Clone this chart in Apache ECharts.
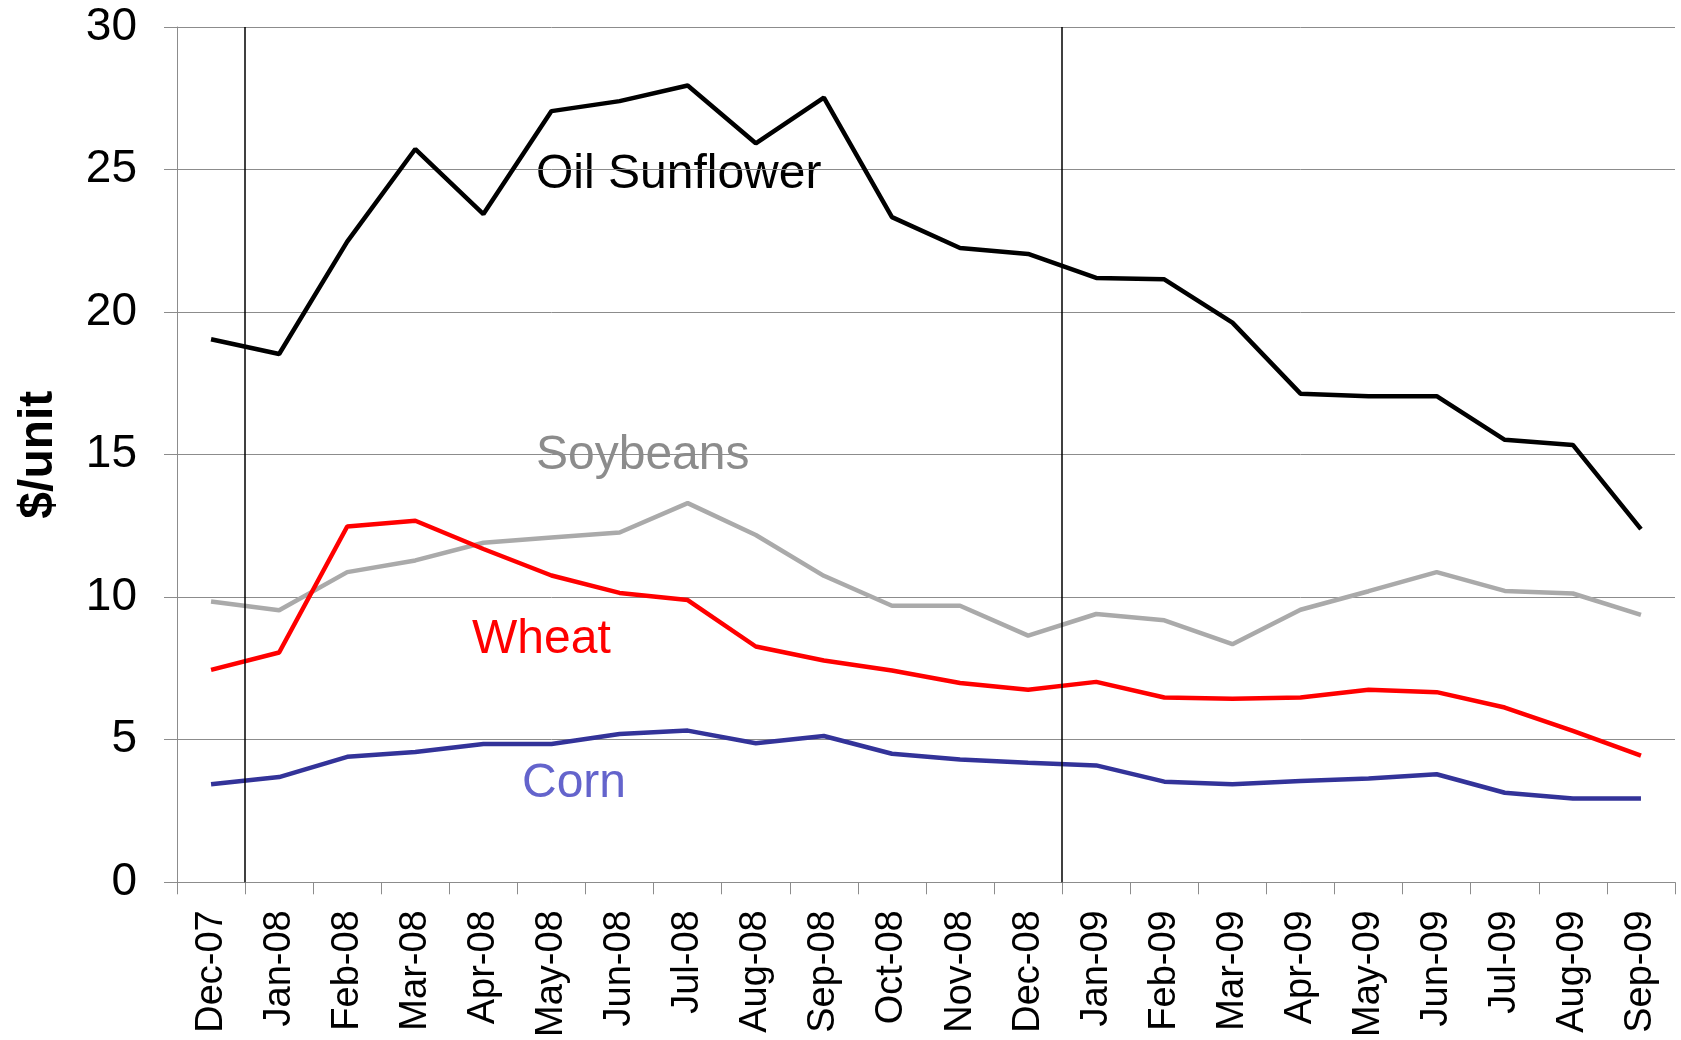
<!DOCTYPE html>
<html>
<head>
<meta charset="utf-8">
<script src="https://cdn.jsdelivr.net/npm/echarts@6/dist/echarts.min.js"></script>
<style>
html,body{margin:0;padding:0;background:#fff;}
#chart{width:1681px;height:1040px;}
</style>
</head>
<body>
<div id="chart"></div>
<script>
const categories = ['Dec-07','Jan-08','Feb-08','Mar-08','Apr-08','May-08','Jun-08','Jul-08','Aug-08','Sep-08','Oct-08','Nov-08','Dec-08','Jan-09','Feb-09','Mar-09','Apr-09','May-09','Jun-09','Jul-09','Aug-09','Sep-09'];
const oilSunflower = [19.05,18.53,22.47,25.72,23.44,27.05,27.4,27.95,25.92,27.52,23.33,22.25,22.04,21.2,21.15,19.63,17.14,17.05,17.05,15.52,15.34,12.39];
const soybeans = [9.85,9.54,10.88,11.29,11.91,12.09,12.27,13.3,12.18,10.75,9.7,9.7,8.65,9.41,9.19,8.35,9.56,10.21,10.88,10.22,10.13,9.38];
const wheat = [7.45,8.06,12.48,12.68,11.69,10.76,10.15,9.9,8.27,7.78,7.43,6.99,6.75,7.03,6.48,6.44,6.48,6.75,6.67,6.13,5.31,4.44];
const corn = [3.44,3.69,4.4,4.57,4.85,4.85,5.2,5.32,4.88,5.13,4.51,4.31,4.19,4.1,3.53,3.44,3.55,3.64,3.79,3.14,2.94,2.94];
const yTicks = {min: 0, max: 30, interval: 5};
const dividers = [1, 13];
const seriesNames = ['Oil Sunflower','Soybeans','Wheat','Corn'];

const chart = echarts.init(document.getElementById('chart'), null, {renderer: 'canvas'});
const FONT = 'Liberation Sans, Arial, sans-serif';
const gridColor = '#8c8c8c';

chart.setOption({
  backgroundColor: '#ffffff',
  animation: false,
  grid: {left: 177, right: 6, top: 27, bottom: 156, containLabel: false},
  xAxis: [{
    type: 'category',
    data: categories,
    boundaryGap: true,
    axisLine: {show: true, lineStyle: {color: gridColor, width: 1}},
    axisTick: {show: true, interval: 0, length: 12, lineStyle: {color: gridColor, width: 1}},
    axisLabel: {interval: 0, rotate: 90, fontSize: 38, color: '#000', fontFamily: FONT, margin: 28},
    splitLine: {show: false}
  }, {
    type: 'value',
    min: 0,
    max: categories.length,
    show: false
  }],
  yAxis: {
    type: 'value',
    min: yTicks.min, max: yTicks.max, interval: yTicks.interval,
    name: '$/unit',
    nameLocation: 'middle',
    nameGap: 114,
    nameRotate: 90,
    nameTextStyle: {fontSize: 48, fontWeight: 'bold', color: '#000', fontFamily: FONT},
    axisLine: {show: true, lineStyle: {color: gridColor, width: 1}},
    axisTick: {show: true, length: 13, lineStyle: {color: gridColor, width: 1}},
    axisLabel: {fontSize: 46, color: '#000', fontFamily: FONT, margin: 40},
    splitLine: {show: true, lineStyle: {color: gridColor, width: 1}}
  },
  series: [
    {name: seriesNames[0], type: 'line', data: oilSunflower, symbol: 'none', lineStyle: {color: '#000000', width: 4.5}, z: 5},
    {name: seriesNames[1], type: 'line', data: soybeans, symbol: 'none', lineStyle: {color: '#aaaaaa', width: 4.5}, z: 4},
    {name: seriesNames[2], type: 'line', data: wheat, symbol: 'none', lineStyle: {color: '#ff0000', width: 4.5}, z: 4},
    {name: seriesNames[3], type: 'line', data: corn, symbol: 'none', lineStyle: {color: '#333399', width: 4.5}, z: 4},
    {
      name: 'dividers', type: 'line', xAxisIndex: 1, data: [], symbol: 'none',
      markLine: {
        silent: true, symbol: 'none', label: {show: false},
        lineStyle: {color: '#000', width: 1.5, type: 'solid'},
        data: dividers.map(v => ({xAxis: v}))
      }
    }
  ],
  graphic: [
    {type: 'text', left: 536, top: 151, style: {text: seriesNames[0], fill: '#000', font: '48px ' + FONT}},
    {type: 'text', left: 536, top: 432, style: {text: seriesNames[1], fill: '#8c8c8c', font: '48px ' + FONT}},
    {type: 'text', left: 472, top: 616, style: {text: seriesNames[2], fill: '#ff0000', font: '48px ' + FONT}},
    {type: 'text', left: 522, top: 760, style: {text: seriesNames[3], fill: '#6464cc', font: '48px ' + FONT}}
  ]
});
</script>
</body>
</html>
